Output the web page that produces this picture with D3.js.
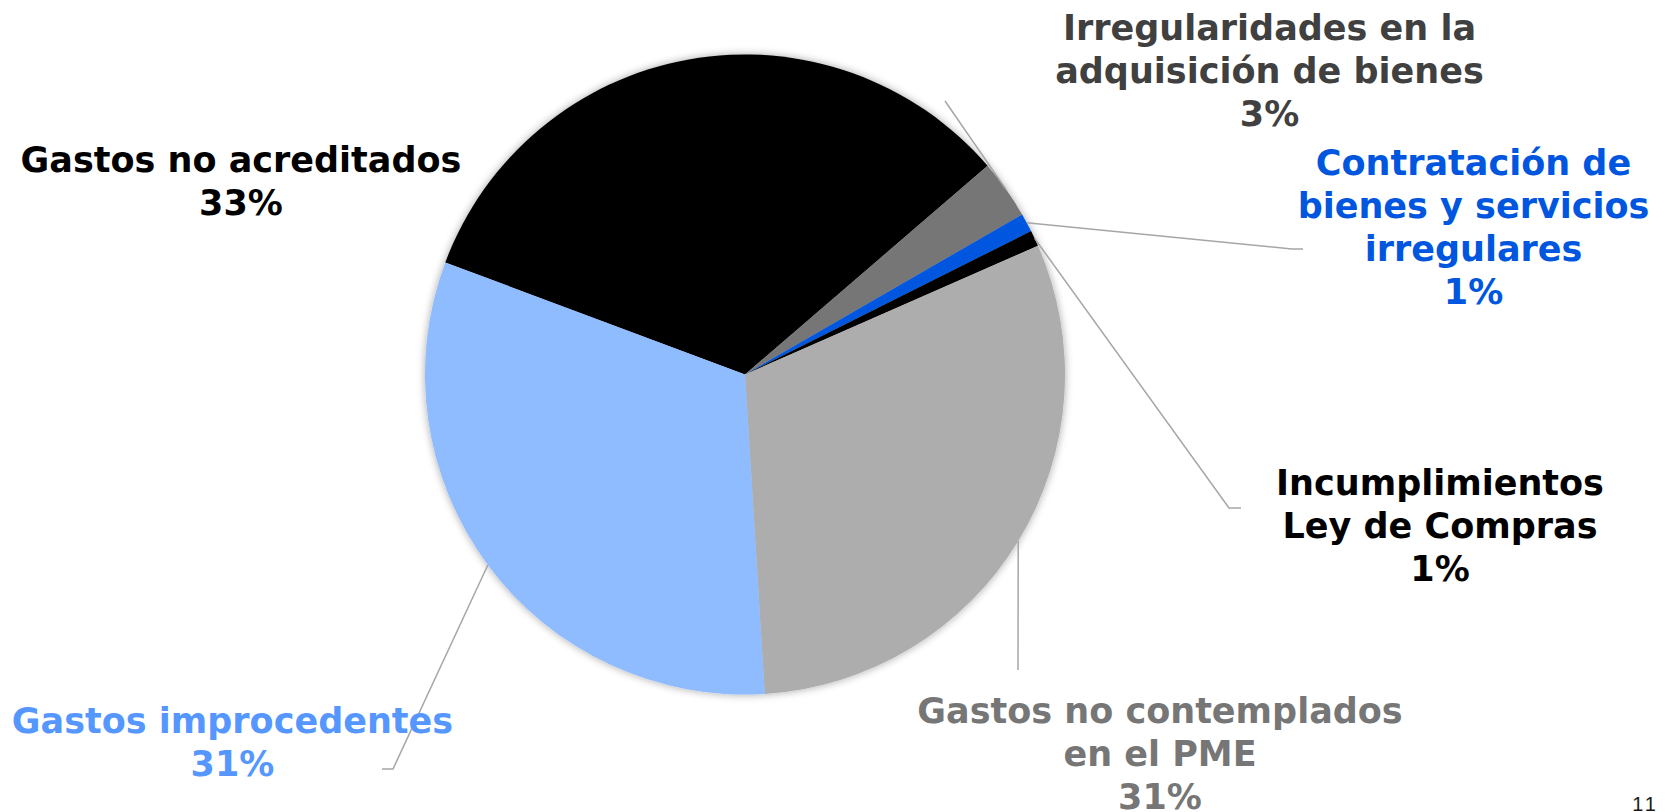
<!DOCTYPE html>
<html lang="es">
<head>
<meta charset="UTF-8">
<title>Gastos observados</title>
<script src="https://d3js.org/d3.v7.min.js"></script>
<style>
    body { margin: 0; background: #fff; }
    .lbl { font-family: "DejaVu Sans", Verdana, sans-serif; font-weight: bold; font-size: 35px; }
    .page { font-family: "Liberation Sans", Arial, sans-serif; font-size: 20px; letter-spacing: 3px; fill: #1a1a1a; }
</style>
</head>
<body>
<div id="chart"></div>
<script>
// data
const categories = [
    "Gastos no acreditados",
    "Irregularidades en la adquisición de bienes",
    "Contratación de bienes y servicios irregulares",
    "Incumplimientos Ley de Compras",
    "Gastos no contemplados en el PME",
    "Gastos improcedentes"
];
const labelLines = [
    ["Gastos no acreditados"],
    ["Irregularidades en la", "adquisición de bienes"],
    ["Contratación de", "bienes y servicios", "irregulares"],
    ["Incumplimientos", "Ley de Compras"],
    ["Gastos no contemplados", "en el PME"],
    ["Gastos improcedentes"]
];
const values = [33.0, 2.97, 0.94, 0.81, 30.6, 31.68];
const pctLabels = ["33%", "3%", "1%", "1%", "31%", "31%"];

const sliceColors = ["#000000", "#767676", "#0056de", "#000000", "#adadad", "#8fbbff"];
const textColors  = ["#000000", "#404040", "#0056de", "#000000", "#767676", "#5596ff"];

const width = 1667, height = 812;
const cx = 745, cy = 374.5, radius = 320;
const startDeg = -69.5;
const lineH = 43;

// label block: centre x, first baseline y, leader path after the slice point (null = no leader)
const labelLayout = [
    { x: 241, y: 171.7, leader: null },
    { x: 1269.5, y: 40, leader: [[945, 101]] },
    { x: 1473.5, y: 175, leader: [[1292, 249], [1303, 249]] },
    { x: 1440, y: 495, leader: [[1229, 508], [1241, 508]] },
    { x: 1160, y: 723.3, leader: [[1018, 670]] },
    { x: 232.5, y: 733.3, leader: [[393, 769], [382, 769]] }
];

const svg = d3.select("#chart").append("svg")
    .attr("width", width)
    .attr("height", height);

const defs = svg.append("defs");
const shadow = defs.append("filter").attr("id", "pieShadow")
    .attr("x", "-10%").attr("y", "-10%").attr("width", "120%").attr("height", "120%");
shadow.append("feGaussianBlur").attr("in", "SourceAlpha").attr("stdDeviation", 4).attr("result", "blur");
shadow.append("feComponentTransfer").attr("in", "blur").attr("result", "soft")
    .append("feFuncA").attr("type", "linear").attr("slope", 0.35);
const merge = shadow.append("feMerge");
merge.append("feMergeNode").attr("in", "soft");
merge.append("feMergeNode").attr("in", "SourceGraphic");

const a0 = startDeg * Math.PI / 180;
const pie = d3.pie().sort(null).startAngle(a0).endAngle(a0 + 2 * Math.PI);
const arcs = pie(values);

const arc = d3.arc().innerRadius(0).outerRadius(radius);
const edgeArc = d3.arc().innerRadius(radius).outerRadius(radius);

const g = svg.append("g").attr("transform", `translate(${cx},${cy})`);

g.append("g").attr("filter", "url(#pieShadow)")
    .selectAll("path")
    .data(arcs)
    .join("path")
    .attr("d", arc)
    .attr("fill", (d, i) => sliceColors[i]);

// leader lines
const line = d3.line();
arcs.forEach((d, i) => {
    const lay = labelLayout[i];
    if (!lay.leader) return;
    const p = edgeArc.centroid(d);
    const pts = [[p[0] + cx, p[1] + cy]].concat(lay.leader);
    svg.append("path")
        .attr("d", line(pts))
        .attr("fill", "none")
        .attr("stroke", "#a6a6a6")
        .attr("stroke-width", 1.5);
});

// labels
categories.forEach((c, i) => {
    const lay = labelLayout[i];
    const lines = labelLines[i].concat([pctLabels[i]]);
    const t = svg.append("text")
        .attr("class", "lbl")
        .attr("text-anchor", "middle")
        .attr("fill", textColors[i]);
    lines.forEach((s, k) => {
        t.append("tspan")
            .attr("x", lay.x)
            .attr("y", lay.y + k * lineH)
            .text(s);
    });
});

svg.append("text")
    .attr("class", "page")
    .attr("x", 1659)
    .attr("y", 810.5)
    .attr("text-anchor", "end")
    .text("11");
</script>
</body>
</html>
